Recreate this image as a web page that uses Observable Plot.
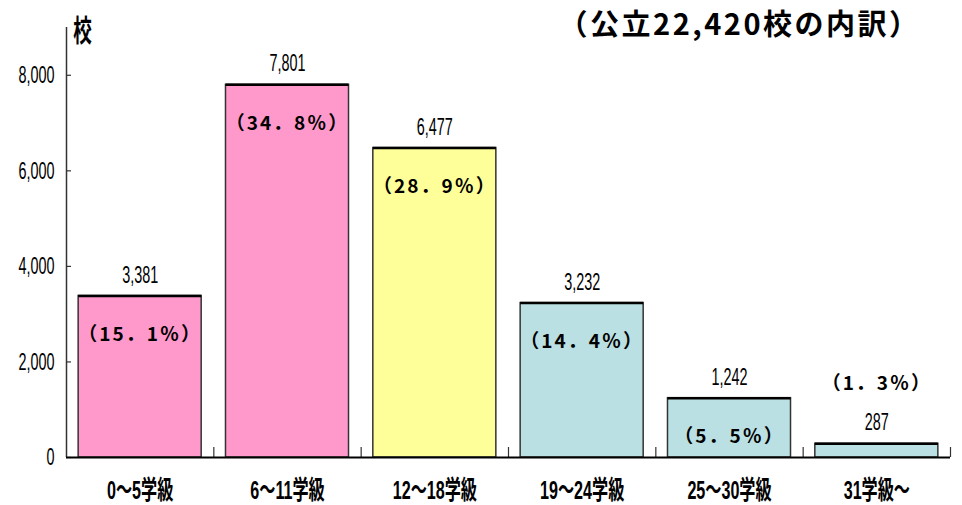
<!DOCTYPE html>
<html>
<head>
<meta charset="utf-8">
<script src="https://cdn.jsdelivr.net/npm/d3@7"></script>
<script src="https://cdn.jsdelivr.net/npm/@observablehq/plot@0.6"></script>
<style>
  html, body { margin: 0; padding: 0; background: #fff; }
  #chart svg { display: block; background: #fff; }
</style>
</head>
<body>
<div id="chart"></div>
<script>
// ---- data ----
const categories = ["0～5学級", "6～11学級", "12～18学級", "19～24学級", "25～30学級", "31学級～"];
const schoolCounts = [3381, 7801, 6477, 3232, 1242, 287];
const percentLabels = ["（15．1％）", "（34．8％）", "（28．9％）", "（14．4％）", "（5．5％）", "（1．3％）"];
const barColors = ["#FF99CC", "#FF99CC", "#FFFF99", "#BAE0E3", "#BAE0E3", "#BAE0E3"];
const yTicks = [0, 2000, 4000, 6000, 8000];
const titleText = "（公立22,420校の内訳）";
const unitText = "校";

const rows = categories.map((c, i) => ({cat: c, value: schoolCounts[i], pct: percentLabels[i]}));

// ---- layout ----
const W = 962, H = 505;
const mL = 66, mR = 12, mT = 27, mB = 48;
const plotW = W - mL - mR, plotH = H - mT - mB;
const step = plotW / categories.length;

const COND = "Liberation Sans, Noto Sans CJK JP, sans-serif";
const COND_B = "Liberation Sans, Noto Sans CJK JP, sans-serif ";
const CJK = "Noto Sans CJK JP, sans-serif";
const fmt = d3.format(",");

const chart = Plot.plot({
  width: W, height: H,
  marginLeft: mL, marginRight: mR, marginTop: mT, marginBottom: mB,
  x: {domain: categories, paddingInner: 0.165, paddingOuter: 0.0825, round: false, axis: null},
  y: {domain: [0, 9000], axis: null},
  color: {domain: categories, range: barColors},
  marks: [
    Plot.barY(rows, {x: "cat", y: "value", fill: "cat", stroke: "#333", strokeWidth: 1.5}),
    Plot.tickY(rows, {x: "cat", y: "value", stroke: "#000", strokeWidth: 2.5}),
    // y axis line
    Plot.ruleX([categories[0]], {dx: -step / 2, stroke: "#333", strokeWidth: 1.5}),
    // y tick marks (inward)
    Plot.ruleY(yTicks, {insetRight: plotW - 5, stroke: "#333", strokeWidth: 1.2}),
    // category separators
    Plot.ruleX(categories, {dx: step / 2, insetTop: plotH - 10, stroke: "#333", strokeWidth: 1.2}),
    // baseline
    Plot.ruleY([0], {stroke: "#000", strokeWidth: 2}),
    // y tick labels
    Plot.text(yTicks, {y: d => d, text: d => fmt(d), frameAnchor: "left", textAnchor: "end", dx: -12,
      fontFamily: COND, fontSize: 24, fill: "#000"}),
    // category labels
    Plot.text(rows, {x: "cat", text: "cat", frameAnchor: "bottom", lineAnchor: "middle", dy: 33,
      fontFamily: COND_B, fontSize: 26, fontWeight: "bold", fill: "#000"}),
    // value labels
    Plot.text(rows, {x: "cat", y: "value", text: d => fmt(d.value), dy: -21,
      fontFamily: COND, fontSize: 24, fill: "#000"}),
    // percent labels inside bars
    Plot.text(rows.filter(d => d.value >= 1000), {x: "cat", y: "value", text: "pct", dy: 39,
      fontFamily: CJK, fontSize: 19, fontWeight: "bold", fill: "#000"}),
    // percent labels above short bars
    Plot.text(rows.filter(d => d.value < 1000), {x: "cat", y: "value", text: "pct", dy: -60,
      fontFamily: CJK, fontSize: 19, fontWeight: "bold", fill: "#000"}),
    // unit label
    Plot.text([unitText], {frameAnchor: "top-left", lineAnchor: "middle", text: d => d, textAnchor: "middle", dx: 16, dy: 4,
      fontFamily: COND_B, fontSize: 30, fontWeight: "bold", fill: "#000"}),
    // title
    Plot.text([titleText], {frameAnchor: "top-right", lineAnchor: "middle", text: d => d, textAnchor: "end", dx: -30, dy: -2,
      fontFamily: CJK, fontSize: 29, fontWeight: "bold", fill: "#000"})
  ]
});

// horizontally condense the narrow-font texts
function condense(family, sx) {
  chart.querySelectorAll("g").forEach(g => {
    if (g.getAttribute("font-family") !== family) return;
    g.querySelectorAll("text").forEach(t => {
      const tr = t.getAttribute("transform");
      if (tr) t.setAttribute("transform", tr + ` scale(${sx},1)`);
      else {
        const x = +t.getAttribute("x") || 0, y = +t.getAttribute("y") || 0;
        t.setAttribute("transform", `translate(${x},${y}) scale(${sx},1) translate(${-x},${-y})`);
      }
    });
  });
}
condense(COND, 0.6);
condense(COND_B, 0.62);

// letter spacing for the gothic labels
chart.querySelectorAll("text").forEach(t => {
  const s = t.textContent;
  if (percentLabels.includes(s)) t.style.letterSpacing = "2px";
  if (s === titleText) t.style.letterSpacing = "2.5px";
});

document.getElementById("chart").appendChild(chart);
</script>
</body>
</html>
